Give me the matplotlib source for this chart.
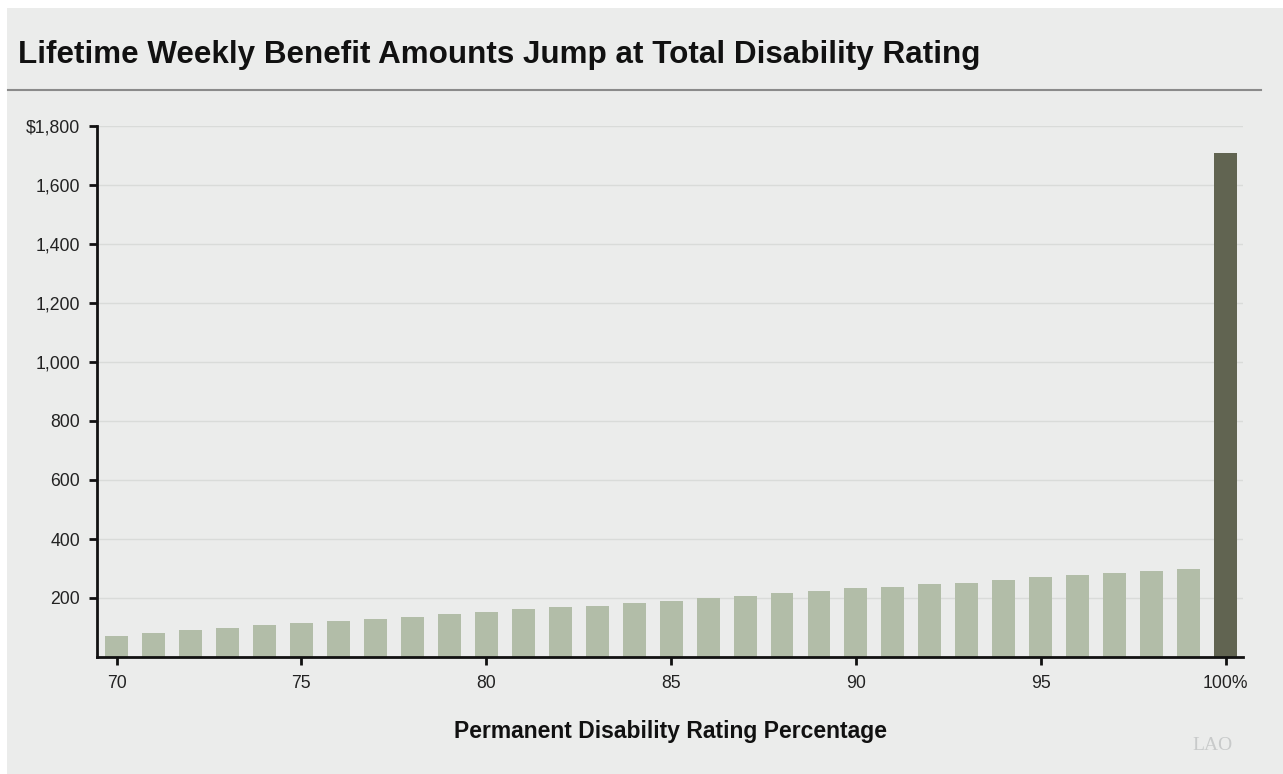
import matplotlib
matplotlib.use('Agg')
import matplotlib.pyplot as plt
from matplotlib.patches import Rectangle
from matplotlib.lines import Line2D

# Data
ratings = list(range(70, 101))
weekly_benefit = [72, 82, 90, 98, 107, 115, 121, 129, 137, 146,
                  154, 162, 170, 173, 182, 191, 200, 207, 216, 225,
                  233, 236, 246, 252, 261, 270, 279, 286, 292, 298,
                  1707]
yticks = [200, 400, 600, 800, 1000, 1200, 1400, 1600, 1800]
ytick_labels = ['200', '400', '600', '800', '1,000', '1,200', '1,400', '1,600', '$1,800']
xticks = [70, 75, 80, 85, 90, 95, 100]
xtick_labels = ['70', '75', '80', '85', '90', '95', '100%']

plt.rcParams['font.family'] = ['Liberation Sans', 'DejaVu Sans']

W, H = 1283, 774
fig = plt.figure(figsize=(W / 100, H / 100), dpi=100, facecolor='white')

# grey panel behind everything
fig.patches.append(Rectangle((7 / W, 0), 1, 1 - 8 / H, transform=fig.transFigure,
                             facecolor='#EBECEB', edgecolor='none', zorder=-10))

# title and rule
fig.text(18 / W, 1 - 55 / H, 'Lifetime Weekly Benefit Amounts Jump at Total Disability Rating',
         fontsize=22.6, fontweight='bold', va='center', ha='left', color='#111111')
fig.lines.append(Line2D([8 / W, 1261 / W], [1 - 90 / H, 1 - 90 / H], transform=fig.transFigure,
                        color='#8a8a8a', linewidth=1.5))

ax = fig.add_axes([97 / W, 1 - 657 / H, (1243 - 97) / W, (657 - 126) / H])
ax.set_facecolor('none')
ax.set_zorder(2)

colors = ['#B2BDA8'] * (len(ratings) - 1) + ['#616451']
ax.bar(ratings, weekly_benefit, width=0.62, color=colors, zorder=2)

ax.set_xlim(69.47, 100.47)
ax.set_ylim(0, 1800)
ax.set_yticks(yticks)
ax.set_yticklabels(ytick_labels)
ax.set_xticks(xticks)
ax.set_xticklabels(xtick_labels)
ax.grid(axis='y', color='#D9DBD9', linewidth=1, zorder=0)
ax.set_axisbelow(True)

for s in ['top', 'right']:
    ax.spines[s].set_visible(False)
for s in ['left', 'bottom']:
    ax.spines[s].set_linewidth(2)
    ax.spines[s].set_color('#111111')
ax.tick_params(axis='both', length=6, width=2, color='#111111', labelsize=12.7,
               labelcolor='#222222')
ax.tick_params(axis='x', pad=7)
ax.tick_params(axis='y', pad=6)

ax.set_xlabel('Permanent Disability Rating Percentage', fontsize=16.5,
              fontweight='bold', labelpad=20, color='#111111')

fig.text(1212 / W, 1 - 745 / H, 'LAO', fontsize=14, family='Liberation Serif',
         color='#C8CACA', ha='center', va='center')

fig.savefig('out.png', dpi=100, facecolor=fig.get_facecolor())
